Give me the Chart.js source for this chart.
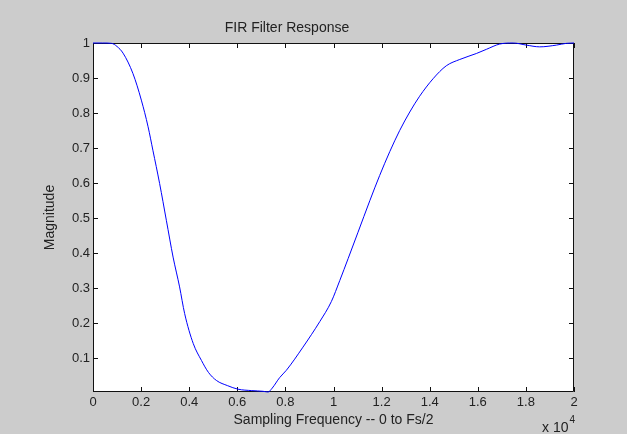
<!DOCTYPE html>
<html lang="en">
<head>
  <meta charset="UTF-8">
  <title>FIR Filter Response</title>
  <style>
    html, body { margin: 0; padding: 0; background: #cccccc; }
    canvas { display: block; }
  </style>
</head>
<body>

  <canvas id="graphic" width="627" height="434"></canvas>

  <!-- ChartJS -->
  <script src="https://cdn.jsdelivr.net/npm/chart.js"></script>

  <script>
    // frequency in units of 10^4 Hz
    const freq = [0, 0.04, 0.077, 0.10, 0.125, 0.166, 0.201, 0.229, 0.249, 0.277,
      0.305, 0.333, 0.360, 0.381, 0.417, 0.451, 0.48, 0.513, 0.56, 0.603,
      0.66, 0.707, 0.728, 0.745, 0.776, 0.804, 0.873, 0.943, 0.991, 1.026,
      1.061, 1.102, 1.151, 1.192, 1.234, 1.275, 1.317, 1.358, 1.414, 1.469,
      1.525, 1.594, 1.636, 1.691, 1.747, 1.802, 1.857, 1.927, 1.968, 2.0];
    const magnitude = [1.0, 1.0, 0.999, 0.99, 0.971, 0.913, 0.837, 0.761, 0.694, 0.599,
      0.494, 0.389, 0.304, 0.228, 0.142, 0.094, 0.060, 0.037, 0.022, 0.012,
      0.008, 0.006, 0.004, 0.015, 0.045, 0.066, 0.132, 0.205, 0.262, 0.322,
      0.385, 0.460, 0.550, 0.622, 0.690, 0.750, 0.803, 0.848, 0.898, 0.935,
      0.953, 0.970, 0.982, 0.997, 1.0, 0.994, 0.989, 0.994, 0.999, 1.0];

    const xTicks = [0, 0.2, 0.4, 0.6, 0.8, 1, 1.2, 1.4, 1.6, 1.8, 2];
    const yTicks = [0.1, 0.2, 0.3, 0.4, 0.5, 0.6, 0.7, 0.8, 0.9, 1];

    const textColor = '#222';
    const fontFamily = '"Liberation Sans", Arial, sans-serif';

    // white axes box, inward ticks on all sides, and the x 10^4 exponent
    const matlabFrame = {
      id: 'matlabFrame',
      beforeDatasetsDraw(chart) {
        const { ctx, chartArea: a, scales } = chart;
        const tl = 5;
        ctx.save();
        ctx.fillStyle = '#ffffff';
        ctx.fillRect(a.left, a.top, a.right - a.left, a.bottom - a.top);

        ctx.strokeStyle = '#111';
        ctx.lineWidth = 1;
        ctx.beginPath();
        ctx.rect(Math.round(a.left) + 0.5, Math.round(a.top) + 0.5,
          Math.round(a.right - a.left) - 1, Math.round(a.bottom - a.top) - 1);
        ctx.stroke();

        ctx.beginPath();
        xTicks.forEach(v => {
          const x = Math.round(scales.x.getPixelForValue(v)) + 0.5;
          ctx.moveTo(x, a.bottom); ctx.lineTo(x, a.bottom - tl);
          ctx.moveTo(x, a.top); ctx.lineTo(x, a.top + tl);
        });
        yTicks.forEach(v => {
          const y = Math.round(scales.y.getPixelForValue(v)) + 0.5;
          ctx.moveTo(a.left, y); ctx.lineTo(a.left + tl, y);
          ctx.moveTo(a.right, y); ctx.lineTo(a.right - tl, y);
        });
        ctx.stroke();

        ctx.fillStyle = textColor;
        ctx.textBaseline = 'middle';
        ctx.textAlign = 'left';
        ctx.font = '14px ' + fontFamily;
        const base = 'x 10';
        ctx.fillText(base, 542, 428);
        const w = ctx.measureText(base).width;
        ctx.font = '10px ' + fontFamily;
        ctx.fillText('4', 542 + w + 1, 420);
        ctx.restore();
      }
    };

    document.addEventListener("DOMContentLoaded", () => {
      const lienzo = document.getElementById("graphic");

      const puntos = freq.map((f, i) => ({ x: f, y: magnitude[i] }));

      new Chart(lienzo, {
        type: 'line',
        data: {
          datasets: [{
            label: 'Magnitude',
            data: puntos,
            borderColor: '#0000ff',
            borderWidth: 1,
            pointRadius: 0,
            cubicInterpolationMode: 'monotone',
            clip: 2,
            fill: false
          }]
        },
        options: {
          responsive: false,
          animation: false,
          layout: { padding: { left: 0, right: 53, top: 0, bottom: 0 } },
          plugins: {
            legend: { display: false },
            tooltip: { enabled: false },
            title: {
              display: true,
              text: 'FIR Filter Response',
              color: textColor,
              font: { family: fontFamily, size: 14, weight: 'normal' },
              padding: { top: 20, bottom: 6.2 }
            }
          },
          scales: {
            x: {
              type: 'linear',
              min: 0,
              max: 2,
              afterBuildTicks: s => { s.ticks = xTicks.map(v => ({ value: v })); },
              afterFit: s => { s.height = 42; },
              grid: { display: false, drawTicks: false },
              border: { display: false },
              ticks: {
                color: textColor,
                padding: 3,
                maxRotation: 0,
                autoSkip: false,
                font: { family: fontFamily, size: 13 },
                callback: v => String(v)
              },
              title: {
                display: true,
                text: 'Sampling Frequency -- 0 to Fs/2',
                color: textColor,
                font: { family: fontFamily, size: 14 },
                padding: { top: 0, bottom: 5.6 }
              }
            },
            y: {
              min: 0.004,
              max: 1,
              afterBuildTicks: s => { s.ticks = yTicks.map(v => ({ value: v })); },
              afterFit: s => { s.width = 93; },
              grid: { display: false, drawTicks: false },
              border: { display: false },
              ticks: {
                color: textColor,
                padding: 3,
                autoSkip: false,
                font: { family: fontFamily, size: 13 },
                callback: v => String(v)
              },
              title: {
                display: true,
                text: 'Magnitude',
                color: textColor,
                font: { family: fontFamily, size: 14 },
                padding: { top: 41.6, bottom: 0 }
              }
            }
          }
        },
        plugins: [matlabFrame]
      });
    });
  </script>
</body>
</html>
